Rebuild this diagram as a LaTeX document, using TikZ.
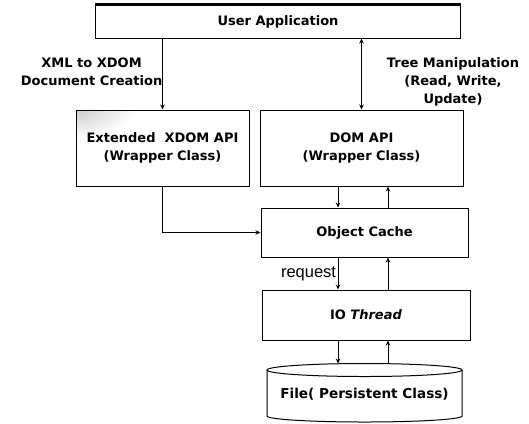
\documentclass[tikz,border=0pt]{standalone}
\usepackage{fontspec}
\setmainfont{DejaVu Sans}
\newfontfamily\reqfont{Liberation Sans}
\usetikzlibrary{arrows.meta}
\begin{document}
\begin{tikzpicture}[x=1bp,y=-1bp,
  box/.style={draw, line width=1bp, rectangle, inner sep=0pt, align=center,
    font=\fontsize{13bp}{18bp}\selectfont\bfseries},
  lbl/.style={align=center, inner sep=0pt, font=\fontsize{13bp}{18bp}\selectfont\bfseries},
  arr/.style={line width=0.9bp, -{Stealth[length=5bp,width=4.5bp]}},
  darr/.style={line width=0.9bp, {Stealth[length=5bp,width=4.5bp]}-{Stealth[length=5bp,width=4.5bp]}}]
\useasboundingbox (0,0) rectangle (529,423);
% boxes
\node[box, minimum width=364bp, minimum height=33bp] (ua) at (278,21.5) {User Application};
\draw[line width=3bp] (ua.north west) -- (ua.north east);
\begin{scope}
  \clip (76,110) rectangle (249,186);
  \shade[inner color=gray!40, outer color=white] (76,110) ellipse[x radius=60bp, y radius=28bp];
\end{scope}
\node[box, minimum width=173bp, minimum height=76bp] (ext) at (162.5,148) {Extended\ \ XDOM API\\(Wrapper Class)};
\node[box, minimum width=203bp, minimum height=76bp] (dom) at (361.5,148) {DOM API\\(Wrapper Class)};
\node[box, minimum width=207bp, minimum height=49bp] (oc) at (364.5,232.5) {Object Cache};
\node[box, minimum width=208bp, minimum height=50bp] (io) at (366,315) {IO \textit{Thread}};
% cylinder
\draw[line width=1bp] (267,370) -- (267,416) arc[start angle=180, end angle=360, x radius=97.5bp, y radius=6bp] -- (462,370);
\draw[line width=1bp] (364.5,370) ellipse[x radius=97.5bp, y radius=6.5bp];
\coordinate (filetop) at (364.5,363.5);
\node[lbl, font=\fontsize{13.6bp}{18bp}\selectfont\bfseries] (file) at (364.5,394) {File( Persistent Class)};
% columns
\coordinate (c1) at (338,0);
\coordinate (c2) at (388,0);
% connectors
\draw[arr] (ua.south -| ext.north) -- (ext.north);
\draw[darr] (ua.south -| dom.north) -- (dom.north);
\draw[arr] (ext.south) |- (oc.west);
\draw[arr] (dom.south -| c1) -- (oc.north -| c1);
\draw[arr] (oc.north -| c2) -- (dom.south -| c2);
\draw[arr] (oc.south -| c1) -- node[midway, left, inner sep=1.5bp, font=\reqfont\fontsize{16.5bp}{18bp}\selectfont] (req) {request} (io.north -| c1);
\draw[arr] (io.north -| c2) -- (oc.south -| c2);
\draw[arr] (io.south -| c1) -- (filetop -| c1);
\draw[arr] (filetop -| c2) -- (io.south -| c2);
% labels
\node[lbl, anchor=east] (l1) at (162.5,72) {XML to XDOM\\Document Creation};
\node[lbl] (l2) at (453,82) {Tree Manipulation\\(Read, Write,\\Update)};
\end{tikzpicture}
\end{document}
